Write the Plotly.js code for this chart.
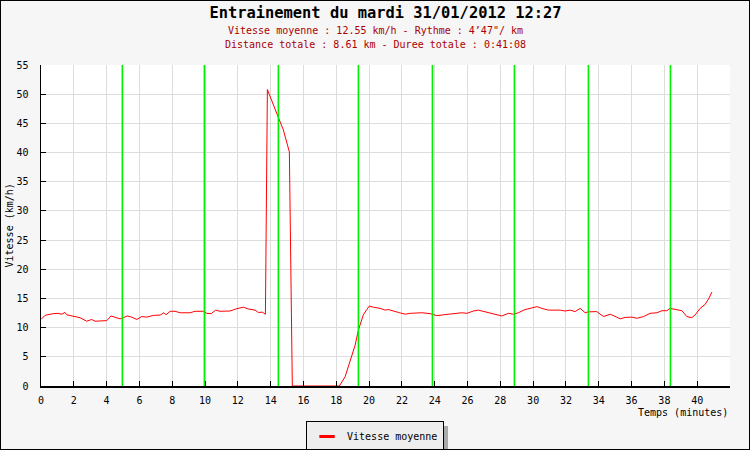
<!DOCTYPE html>
<html>
<head>
<meta charset="utf-8">
<script src="https://cdn.plot.ly/plotly-3.0.1.min.js"></script>
<style>
  html, body { margin: 0; padding: 0; background: #f6f6f6; }
  #wrap { position: relative; width: 750px; height: 450px; }
  #chart { width: 750px; height: 450px; }
  #frame { position: absolute; left: 0; top: 0; width: 748px; height: 448px; border: 1px solid #000; pointer-events: none; }
</style>
</head>
<body>
<div id="wrap"><div id="chart"></div><div id="frame"></div></div>
<script>
// Time in minutes
const temps = [0, 0.24, 0.75, 1.04, 1.26, 1.46, 1.57, 1.97, 2.38, 2.79, 3.09, 3.29, 3.60, 4.01, 4.27, 4.51, 4.82,
  5.02, 5.26, 5.53, 5.84, 6.14, 6.45, 6.85, 7.26, 7.50, 7.62, 7.87, 8.17, 8.48, 9.09, 9.39, 9.90,
  10.10, 10.37, 10.65, 10.91, 11.52, 11.93, 12.34, 12.64, 13.05, 13.25, 13.49, 13.68,
  13.80, 14.16, 14.47, 14.77, 15.14, 15.32, 16.5, 18.19,
  18.54, 18.84, 19.15, 19.35, 19.55, 19.65, 19.86, 20.01, 20.26, 20.67, 20.98, 21.18, 21.79, 22.20, 22.50,
  23.21, 23.72, 24.13, 24.53, 25.14, 25.65, 25.96, 26.36, 26.66, 27.07, 27.68, 28.09, 28.49, 28.80,
  29.10, 29.51, 29.82, 30.23, 30.53, 30.93, 31.65, 31.95, 32.26, 32.56, 32.87, 33.17, 33.37, 33.88,
  34.29, 34.70, 35.10, 35.30, 35.61, 36.02, 36.32, 36.73, 37.13, 37.54, 37.85, 38.15, 38.35, 38.76,
  39.07, 39.37, 39.67, 39.88, 40.18, 40.49, 40.69, 40.90];
// Speed in km/h
const vitesse = [11.4, 12.1, 12.4, 12.45, 12.3, 12.6, 12.2, 12.0, 11.7, 11.1, 11.4, 11.1, 11.1, 11.2, 12.0, 11.75, 11.5,
  11.7, 12.0, 11.8, 11.4, 11.9, 11.8, 12.1, 12.15, 12.55, 12.2, 12.8, 12.8, 12.55, 12.55, 12.8, 12.8,
  12.45, 12.4, 13.0, 12.8, 12.85, 13.25, 13.5, 13.2, 13.0, 12.6, 12.65, 12.3,
  50.8, 48.4, 46.0, 43.9, 40.1, 0, 0, 0,
  1.6, 4.45, 7.0, 9.6, 11.3, 12.2, 13.1, 13.7, 13.5, 13.3, 13.0, 13.1, 12.6, 12.3, 12.45,
  12.55, 12.4, 12.05, 12.2, 12.45, 12.55, 12.45, 12.85, 13.0, 12.75, 12.3, 12.0, 12.45, 12.3,
  12.55, 13.1, 13.3, 13.6, 13.3, 13.0, 13.0, 12.85, 13.0, 12.75, 13.3, 12.55, 12.7, 12.75,
  11.9, 12.3, 11.8, 11.5, 11.75, 11.8, 11.6, 11.9, 12.45, 12.55, 12.9, 12.9, 13.3, 13.0,
  12.9, 11.9, 11.7, 12.2, 13.3, 14.0, 14.9, 16.1];
// Kilometre markers (minutes)
const kmMarks = [4.96, 9.96, 14.47, 19.35, 23.86, 28.86, 33.37, 38.37];
const xTicks = [0, 2, 4, 6, 8, 10, 12, 14, 16, 18, 20, 22, 24, 26, 28, 30, 32, 34, 36, 38, 40];
const yTicks = [0, 5, 10, 15, 20, 25, 30, 35, 40, 45, 50, 55];

const mono = "DejaVu Sans Mono, monospace";

const traces = [
  { x: temps, y: vitesse, type: 'scatter', mode: 'lines', name: 'Vitesse moyenne',
    line: { color: '#ff0000', width: 1 }, showlegend: false, hoverinfo: 'skip' },
  { x: [null], y: [null], type: 'scatter', mode: 'markers', name: 'Vitesse moyenne',
    marker: { symbol: 'line-ew-open', size: 11, color: '#ff0000', line: { color: '#ff0000', width: 3 } },
    showlegend: true }
];

// pixel -> paper helpers for decorative legend shadow
const L = 41, R = 730, T = 65, B = 386;
const px = v => (v - L) / (R - L);
const py = v => (B - v) / (B - T);

const shapes = kmMarks.map(k => ({
  type: 'line', xref: 'x', yref: 'paper', x0: k, x1: k, y0: 0, y1: 1,
  line: { color: '#00ee00', width: 1.6 }, layer: 'above'
}));
shapes.push({ type: 'rect', xref: 'paper', yref: 'paper', x0: px(313), x1: px(448), y0: py(449), y1: py(426),
  fillcolor: '#aaaaaa', line: { width: 0 }, layer: 'above' });

const layout = {
  width: 750, height: 450,
  paper_bgcolor: '#f6f6f6', plot_bgcolor: '#ffffff',
  margin: { l: 41, r: 20, t: 65, b: 64, autoexpand: false },
  title: { text: 'Entrainement du mardi 31/01/2012 12:27', x: 0.5, xref: 'paper', y: 0.972, yanchor: 'middle',
    font: { family: mono, size: 15.4, color: '#000', weight: 'bold' } },
  xaxis: { range: [0, 42], tickvals: xTicks, ticktext: xTicks.map(String), ticks: 'inside', ticklen: 5,
    tickcolor: '#000', showline: true, linecolor: '#000', linewidth: 1.5, showgrid: true, gridcolor: '#dddddd',
    zeroline: false, tickfont: { family: mono, size: 10, color: '#000' }, ticklabelstandoff: 4, fixedrange: true },
  yaxis: { range: [0, 55], tickvals: yTicks, ticktext: yTicks.map(String), ticks: 'inside', ticklen: 5,
    tickcolor: '#000', showline: true, linecolor: '#000', linewidth: 1.5, showgrid: true, gridcolor: '#dddddd',
    zeroline: false, tickfont: { family: mono, size: 10, color: '#000' }, ticklabelstandoff: 9, fixedrange: true },
  shapes: shapes,
  annotations: [
    { text: 'Vitesse moyenne : 12.55 km/h - Rythme : 4’47"/ km', xref: 'paper', yref: 'paper',
      x: 0.4848, y: 1.109, xanchor: 'center', yanchor: 'middle', showarrow: false,
      font: { family: mono, size: 10, color: '#aa0000' } },
    { text: 'Distance totale : 8.61 km - Duree totale : 0:41:08', xref: 'paper', yref: 'paper',
      x: 0.4848, y: 1.065, xanchor: 'center', yanchor: 'middle', showarrow: false,
      font: { family: mono, size: 10, color: '#aa0000' } },
    { text: 'Temps (minutes)', xref: 'paper', yref: 'paper', x: 1, y: py(412), xanchor: 'right', yanchor: 'middle',
      showarrow: false, font: { family: mono, size: 10, color: '#000' } },
    { text: 'Vitesse (km/h)', xref: 'paper', yref: 'paper', x: -0.045, y: 0.5, textangle: -90,
      xanchor: 'center', yanchor: 'middle', showarrow: false, font: { family: mono, size: 10, color: '#000' } }
  ],
  legend: { x: 0.4848, xanchor: 'center', y: py(421), yanchor: 'top', orientation: 'h',
    bgcolor: '#eeeeee', bordercolor: '#000', borderwidth: 1, itemwidth: 30,
    font: { family: mono, size: 10, color: '#000' } },
  hovermode: false
};

Plotly.newPlot('chart', traces, layout, { displayModeBar: false, staticPlot: true });
</script>
</body>
</html>
